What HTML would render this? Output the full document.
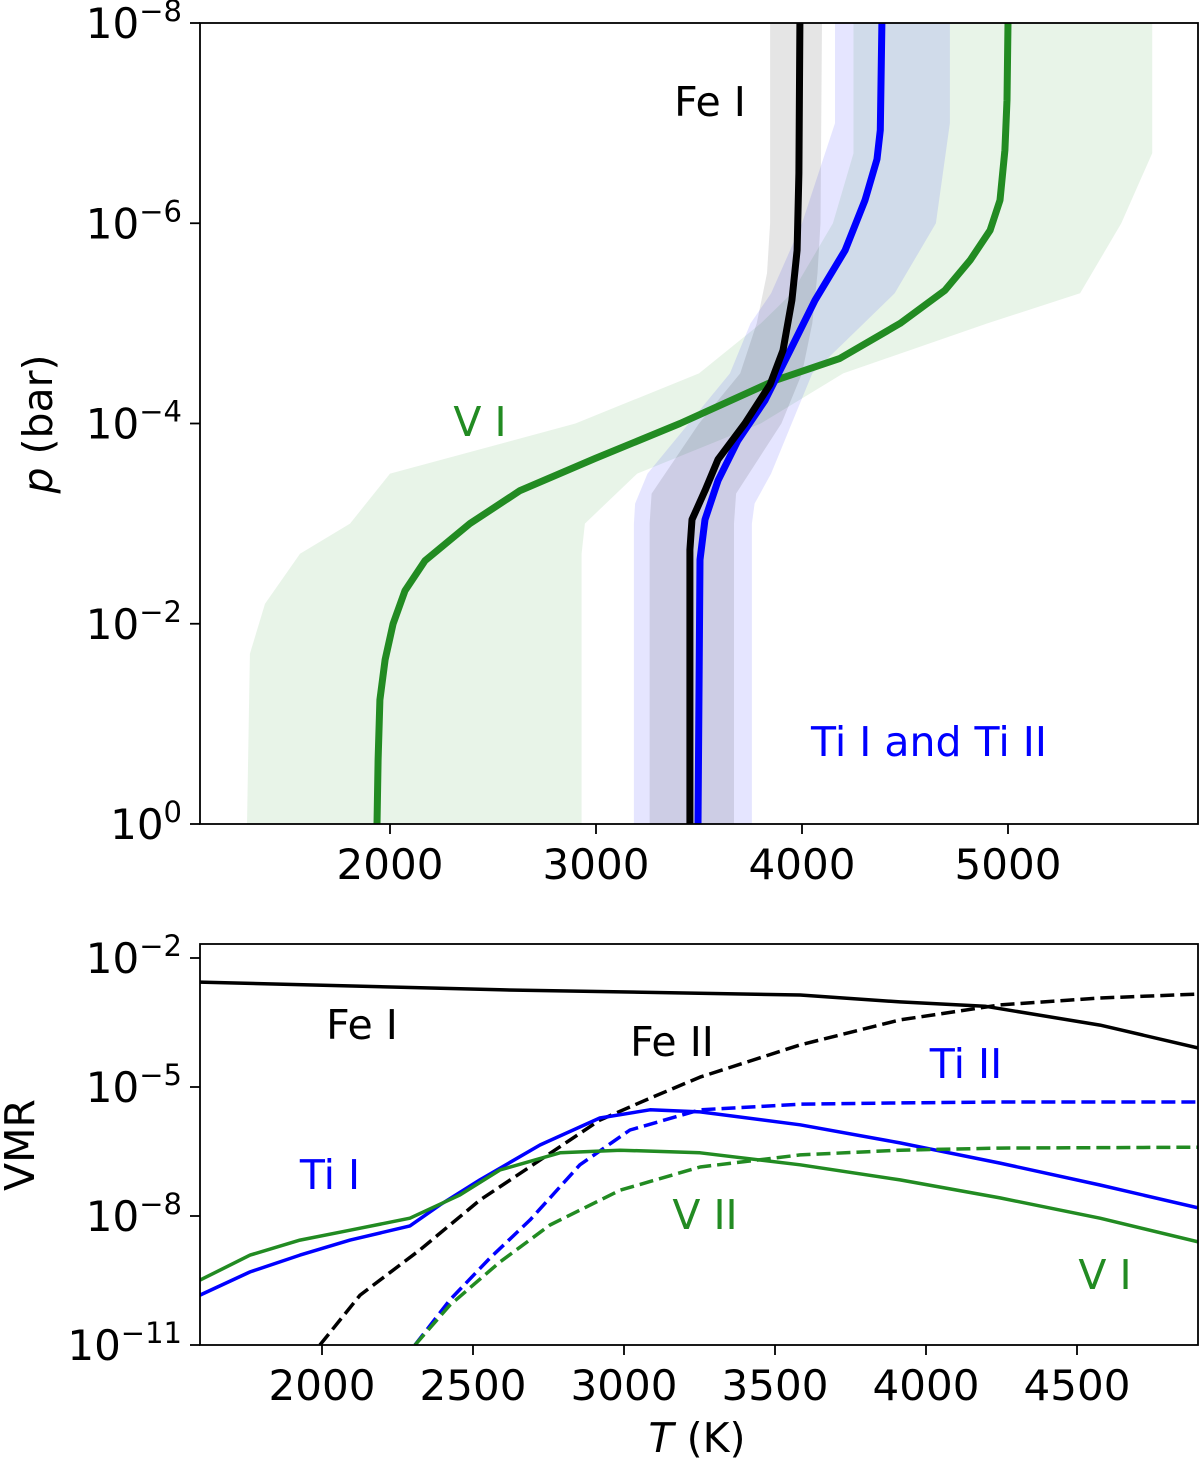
<!DOCTYPE html>
<html><head><meta charset="utf-8"><style>
html,body{margin:0;padding:0;background:#fff;}
svg{display:block;font-family:"DejaVu Sans","Liberation Sans",sans-serif;}
</style></head><body>
<svg id="chart" width="1200" height="1461" viewBox="0 0 1200 1461" xmlns="http://www.w3.org/2000/svg">
<g id="topPanel"></g>
<g id="botPanel"></g>
</svg>
<script>
// ---- Top panel data: log10 p (bar) and T (K)
const feLogP = [-8, -6.5, -5.73, -5.23, -4.73, -4.39, -4.0, -3.64, -3.33, -3.04, -2.74, 0];
const feT    = [3990, 3985, 3976, 3951, 3908, 3845, 3723, 3592, 3529, 3466, 3456, 3456];
const tiLogP = [-8, -6.93, -6.64, -6.23, -5.73, -5.23, -4.73, -4.23, -3.83, -3.43, -3.04, -2.64, 0];
const tiT    = [4388, 4380, 4364, 4306, 4209, 4063, 3942, 3820, 3689, 3592, 3529, 3505, 3495];
const vLogP  = [-8, -7.23, -6.73, -6.23, -5.93, -5.63, -5.33, -5.0, -4.65, -4.43, -4.0, -3.65, -3.33, -3.0, -2.63, -2.33, -2.0, -1.64, -1.24, -0.64, 0];
const vT     = [5000, 4995, 4985, 4961, 4913, 4816, 4694, 4476, 4184, 3869, 3408, 2995, 2631, 2388, 2170, 2073, 2015, 1976, 1951, 1942, 1937];
const vBandLogP = [-8, -6.7, -6.0, -5.3, -5.0, -4.5, -4.0, -3.5, -3.0, -2.7, -2.2, -1.7, 0];
const vBandLow  = [4250, 4250, 4150, 3950, 3800, 3500, 2900, 2000, 1806, 1563, 1393, 1320, 1306];
const vBandHigh = [5700, 5700, 5550, 5350, 4900, 4200, 3800, 3200, 2946, 2930, 2930, 2930, 2930];
const tiBandLogP = [-8, -7, -6, -5.3, -5, -4.5, -4, -3.5, -3.2, -3, 0];
const tiBandLow  = [4160, 4160, 4000, 3850, 3750, 3650, 3450, 3250, 3190, 3184, 3184];
const tiBandHigh = [4718, 4718, 4650, 4450, 4300, 4050, 3950, 3850, 3770, 3757, 3757];
const feBandLogP = [-8, -6, -5.5, -5, -4.5, -4, -3.3, -3, 0];
const feBandLow  = [3845, 3845, 3830, 3780, 3700, 3500, 3270, 3260, 3260];
const feBandHigh = [4097, 4090, 4075, 4050, 4000, 3900, 3680, 3670, 3670];
const topXTicks = [2000, 3000, 4000, 5000];
const topYTicks = [-8, -6, -4, -2, 0];

// ---- Bottom panel data: T (K) and log10 VMR
const feIT   = [1596, 2589, 3583, 3914, 4195, 4576, 4900];
const feIV   = [-2.56, -2.74, -2.86, -3.02, -3.12, -3.56, -4.09];
const feIIT  = [1993, 2126, 2324, 2523, 2722, 2920, 3086, 3252, 3583, 3914, 4245, 4576, 4900];
const feIIV  = [-11.0, -9.84, -8.79, -7.63, -6.70, -5.77, -5.26, -4.77, -4.02, -3.44, -3.09, -2.93, -2.84];
const tiIT   = [1596, 1762, 1927, 2093, 2291, 2391, 2523, 2722, 2920, 3086, 3252, 3583, 3914, 4245, 4576, 4900];
const tiIV   = [-9.84, -9.30, -8.91, -8.56, -8.23, -7.74, -7.16, -6.35, -5.72, -5.53, -5.58, -5.88, -6.30, -6.77, -7.28, -7.81];
const vIT    = [1596, 1762, 1927, 2093, 2291, 2457, 2589, 2788, 2987, 3252, 3583, 3914, 4245, 4576, 4900];
const vIV    = [-9.49, -8.91, -8.56, -8.33, -8.05, -7.51, -6.93, -6.53, -6.47, -6.53, -6.81, -7.16, -7.58, -8.05, -8.60];
const tiIIT  = [2308, 2424, 2556, 2689, 2854, 3020, 3252, 3583, 3914, 4245, 4900];
const tiIIV  = [-11.0, -9.95, -8.98, -8.09, -6.81, -6.0, -5.53, -5.40, -5.37, -5.35, -5.35];
const vIIT   = [2308, 2424, 2589, 2755, 2987, 3252, 3583, 3914, 4245, 4900];
const vIIV   = [-11.0, -10.07, -9.07, -8.21, -7.40, -6.86, -6.58, -6.47, -6.42, -6.40];
const botXTicks = [2000, 2500, 3000, 3500, 4000, 4500];
const botYTicks = [-2, -5, -8, -11];

const NS = "http://www.w3.org/2000/svg";
function mk(tag, attrs, parent){const e=document.createElementNS(NS,tag);for(const k in attrs)e.setAttribute(k,attrs[k]);parent.appendChild(e);return e;}

const tx = t => 390 + (t-2000)*0.206;
const ty = lp => 824 + lp*100.125;
const bx = t => 322 + (t-2000)*0.302;
const by = lv => 958 - (lv+2)*43;

const svgRoot = document.getElementById('chart');
const topG = document.getElementById('topPanel');
const botG = document.getElementById('botPanel');

const clipT = mk('clipPath',{id:'clipTop'},svgRoot);
mk('rect',{x:200,y:23,width:998,height:801},clipT);
const topPlot = mk('g',{'clip-path':'url(#clipTop)'},topG);



function bandIn(g,P, lo, hi, fill, name){
  let d = P.map((p,i)=>(i?'L':'M')+tx(lo[i]).toFixed(1)+','+ty(p).toFixed(1)).join(' ');
  for(let i=P.length-1;i>=0;i--) d += ' L'+tx(hi[i]).toFixed(1)+','+ty(P[i]).toFixed(1);
  const e = mk('path',{d:d+' Z',fill:fill,stroke:'none'},g);
  
  
}
bandIn(topPlot, vBandLogP, vBandLow, vBandHigh, 'rgba(0,128,0,0.09)', 'v-i-uncertainty-band');
bandIn(topPlot, tiBandLogP, tiBandLow, tiBandHigh, 'rgba(0,0,255,0.1)', 'ti-uncertainty-band');
bandIn(topPlot, feBandLogP, feBandLow, feBandHigh, 'rgba(0,0,0,0.1)', 'fe-i-uncertainty-band');

function lineTop(P, T, color, name){
  const d = P.map((p,i)=>(i?'L':'M')+tx(T[i]).toFixed(1)+','+ty(p).toFixed(1)).join(' ');
  const e = mk('path',{d:d,fill:'none',stroke:color,'stroke-width':7,'stroke-linejoin':'round'},topPlot);
  
  
}
lineTop(vLogP, vT, '#228b22', 'v-i-profile');
lineTop(tiLogP, tiT, '#0000ff', 'ti-profile');
lineTop(feLogP, feT, '#000000', 'fe-i-profile');

const frameT = mk('rect',{x:200,y:23,width:998,height:801,fill:'none',stroke:'#000','stroke-width':1.8},topG);



topXTicks.forEach(t=>{
  const x=tx(t);
  mk('line',{x1:x,y1:824,x2:x,y2:834,stroke:'#000','stroke-width':1.8},topG);
  const l=mk('text',{x:x,y:879,'font-size':42,'text-anchor':'middle'},topG);
  l.textContent=t;
  
  
});
topYTicks.forEach(p=>{
  const y=ty(p);
  mk('line',{x1:190,y1:y,x2:200,y2:y,stroke:'#000','stroke-width':1.8},topG);
  const l=mk('text',{x:182,y:y+15,'font-size':42,'text-anchor':'end'},topG);
  
  
  const a=mk('tspan',{},l); a.textContent='10';
  const b=mk('tspan',{dy:-17,'font-size':29}, l); b.textContent = p===0?'0':'\u2212'+(-p);
});
const yl=mk('text',{x:52,y:424,'font-size':41,'text-anchor':'middle',transform:'rotate(-90 52 424)'},topG);


const yi=mk('tspan',{'font-style':'italic'},yl); yi.textContent='p';
const yr=mk('tspan',{},yl); yr.textContent=' (bar)';

function lab(g,x,y,txt,color,size,name){
  const e=mk('text',{x:x,y:y,'font-size':size,fill:color,'text-anchor':'middle'},g);
  e.textContent=txt;
  
  
}
lab(topG,710,116,'Fe I','#000',41,'fe-i-label');
lab(topG,480,436,'V I','#228b22',41,'v-i-label');
lab(topG,929,756,'Ti I and Ti II','#0000ff',41,'ti-label');

const clipB = mk('clipPath',{id:'clipBot'},svgRoot);
mk('rect',{x:200,y:944,width:998,height:401},clipB);
const botPlot = mk('g',{'clip-path':'url(#clipBot)'},botG);


function lineBot(T, V, color, dash, name){
  const d = T.map((t,i)=>(i?'L':'M')+bx(t).toFixed(1)+','+by(V[i]).toFixed(1)).join(' ');
  const a={d:d,fill:'none',stroke:color,'stroke-width':3.5,'stroke-linejoin':'round'};
  if(dash) a['stroke-dasharray']='14,6';
  const e = mk('path',a,botPlot);
  
  
}
lineBot(feIT, feIV, '#000', false, 'fe-i-vmr-line');
lineBot(feIIT, feIIV, '#000', true, 'fe-ii-vmr-line');
lineBot(tiIT, tiIV, '#0000ff', false, 'ti-i-vmr-line');
lineBot(tiIIT, tiIIV, '#0000ff', true, 'ti-ii-vmr-line');
lineBot(vIT, vIV, '#228b22', false, 'v-i-vmr-line');
lineBot(vIIT, vIIV, '#228b22', true, 'v-ii-vmr-line');

const frameB = mk('rect',{x:200,y:944,width:998,height:401,fill:'none',stroke:'#000','stroke-width':1.8},botG);


botXTicks.forEach(t=>{
  const x=bx(t);
  mk('line',{x1:x,y1:1345,x2:x,y2:1355,stroke:'#000','stroke-width':1.8},botG);
  const l=mk('text',{x:x,y:1400,'font-size':42,'text-anchor':'middle'},botG);
  l.textContent=t;
  
  
});
botYTicks.forEach(v=>{
  const y=by(v);
  mk('line',{x1:190,y1:y,x2:200,y2:y,stroke:'#000','stroke-width':1.8},botG);
  const l=mk('text',{x:182,y:y+15,'font-size':42,'text-anchor':'end'},botG);
  
  
  const a=mk('tspan',{},l); a.textContent='10';
  const b=mk('tspan',{dy:-17,'font-size':29},l); b.textContent='\u2212'+(-v);
});
const vl=mk('text',{x:34,y:1145,'font-size':41,'text-anchor':'middle',transform:'rotate(-90 34 1145)'},botG);
vl.textContent='VMR';


const xl=mk('text',{x:697,y:1452,'font-size':41,'text-anchor':'middle'},botG);


const xi=mk('tspan',{'font-style':'italic'},xl); xi.textContent='T';
const xr=mk('tspan',{},xl); xr.textContent=' (K)';

lab(botG,362,1039,'Fe I','#000',41,'fe-i-vmr-label');
lab(botG,672,1056,'Fe II','#000',41,'fe-ii-vmr-label');
lab(botG,966,1078,'Ti II','#0000ff',41,'ti-ii-vmr-label');
lab(botG,330,1189,'Ti I','#0000ff',41,'ti-i-vmr-label');
lab(botG,705,1229,'V II','#228b22',41,'v-ii-vmr-label');
lab(botG,1105,1289,'V I','#228b22',41,'v-i-vmr-label');
</script>
</body></html>
